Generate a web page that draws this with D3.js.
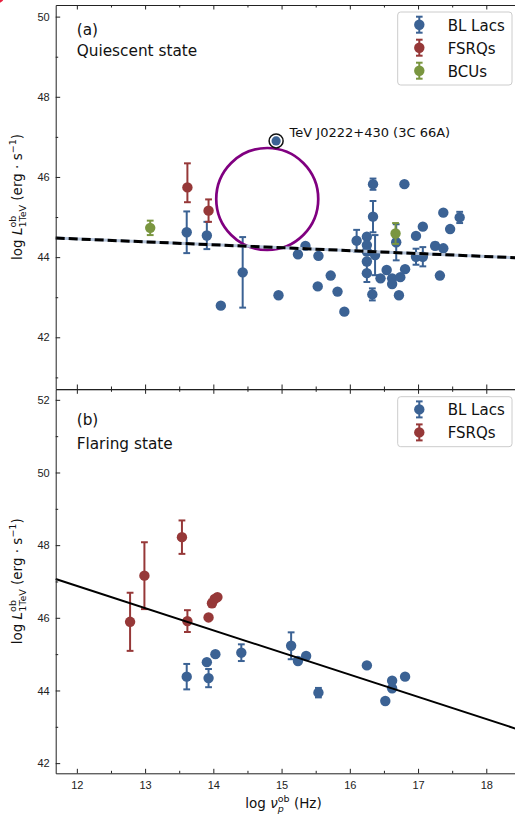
<!DOCTYPE html>
<html>
<head>
<meta charset="utf-8">
<title>TeV luminosity vs synchrotron peak</title>
<script src="https://cdn.jsdelivr.net/npm/d3@7"></script>
<style>
body { margin: 0; background: #fff; }
svg { display: block; font-family: "DejaVu Sans", sans-serif; }
.axis text { font-size: 11px; fill: #222; }
.axis line { stroke: #222; }
.axis path { stroke: #222; }
</style>
</head>
<body>
<div id="chart"></div>
<script>
// each point: [log nu_p, log L_1TeV, err below, err above]
var quiescentBL = [
	[13.61, 44.62, 0.52, 0.52], [13.905, 44.54, 0.34, 0.34], [14.11, 42.79, 0, 0],
	[14.43, 43.62, 0.88, 0.88], [14.955, 43.05, 0, 0], [15.24, 44.07, 0, 0],
	[15.35, 44.28, 0, 0], [15.54, 44.03, 0, 0], [15.53, 43.27, 0, 0],
	[15.72, 43.54, 0, 0], [15.82, 43.14, 0, 0], [15.92, 42.64, 0, 0],
	[16.10, 44.41, 0.27, 0.27], [16.25, 44.51, 0, 0], [16.25, 44.30, 0, 0],
	[16.25, 44.14, 0, 0], [16.25, 43.89, 0, 0], [16.25, 43.60, 0.22, 0.22],
	[16.34, 45.82, 0.14, 0.14], [16.34, 45.01, 0.39, 0.39], [16.37, 44.05, 0.50, 0.50],
	[16.33, 43.07, 0.15, 0.15], [16.45, 43.47, 0, 0], [16.54, 43.68, 0, 0],
	[16.62, 43.47, 0, 0], [16.62, 43.33, 0, 0], [16.74, 43.50, 0, 0],
	[16.72, 43.05, 0, 0], [16.81, 43.70, 0, 0], [16.80, 45.82, 0, 0],
	[16.68, 44.37, 0.45, 0.45], [16.97, 44.53, 0, 0], [17.07, 44.76, 0, 0],
	[16.97, 44.01, 0.2, 0.2], [17.07, 44.01, 0.24, 0.24], [17.25, 44.28, 0.08, 0.08],
	[17.37, 44.22, 0, 0], [17.32, 43.54, 0, 0], [17.37, 45.11, 0, 0],
	[17.47, 44.70, 0, 0], [17.61, 44.99, 0.14, 0.14]
];
var quiescentFSRQ = [[13.62, 45.74, 0.37, 0.6], [13.93, 45.16, 0.28, 0.28]];
var quiescentBCU = [[13.075, 44.73, 0.18, 0.18], [16.67, 44.59, 0.26, 0.26]];
var highlight = [14.92, 46.90];
var highlightName = "TeV J0222+430 (3C 66A)";
var circleCenter = [14.79, 45.45];

var flaringBL = [
	[13.61, 44.38, 0.35, 0.35], [13.905, 44.78, 0, 0], [13.93, 44.34, 0.25, 0.25],
	[14.03, 45.00, 0, 0], [14.41, 45.04, 0.23, 0.23], [15.14, 45.23, 0.37, 0.37],
	[15.24, 44.81, 0, 0], [15.36, 44.95, 0, 0], [15.54, 43.94, 0.13, 0.13],
	[16.25, 44.69, 0, 0], [16.62, 44.27, 0, 0], [16.62, 44.06, 0, 0],
	[16.52, 43.71, 0, 0], [16.81, 44.38, 0, 0]
];
var flaringFSRQ = [
	[12.78, 45.89, 0.8, 0.8], [12.99, 47.16, 0.92, 0.92], [13.54, 48.22, 0.46, 0.46],
	[13.62, 45.91, 0.3, 0.3], [13.93, 46.01, 0, 0], [13.98, 46.40, 0.1, 0.1],
	[14.02, 46.52, 0, 0], [14.06, 46.57, 0, 0]
];

// fit lines: [intercept, slope]
var fitQuiescent = [45.33, -0.073];
var fitFlaring = [54.21, -0.611];

var xMajor = [12, 13, 14, 15, 16, 17, 18];
var xMinor = [12.5, 13.5, 14.5, 15.5, 16.5, 17.5];
var yMajorA = [42, 44, 46, 48, 50];
var yMinorA = [41, 43, 45, 47, 49];
var yMajorB = [42, 44, 46, 48, 50, 52];
var yMinorB = [43, 45, 47, 49, 51];

var colors = {"BL Lacs": "#3b6294", "FSRQs": "#963838", "BCUs": "#7a9640"};

var W = 515, H = 816;
var left = 55.7, right = 517;
var x = d3.scaleLinear().domain([11.69, 18.45]).range([left, right]);

var svg = d3.select("#chart").append("svg").attr("width", W).attr("height", H);

// little red mark in the corner of the original
svg.append("circle").attr("cx", -2).attr("cy", -3).attr("r", 6).attr("fill", "#e8213f");

function drawPoints(g, y, data, color) {
	var pts = g.append("g").selectAll("g").data(data).enter().append("g");
	var eb = pts.filter(function (d) { return d[2] > 0 || d[3] > 0; });
	eb.append("line")
		.attr("x1", function (d) { return x(d[0]); }).attr("x2", function (d) { return x(d[0]); })
		.attr("y1", function (d) { return y(d[1] - d[2]); }).attr("y2", function (d) { return y(d[1] + d[3]); })
		.attr("stroke", color).attr("stroke-width", 2);
	[2, 3].forEach(function (k) {
		eb.append("line")
			.attr("x1", function (d) { return x(d[0]) - 3.4; }).attr("x2", function (d) { return x(d[0]) + 3.4; })
			.attr("y1", function (d) { return y(d[1] + (k == 2 ? -d[2] : d[3])); })
			.attr("y2", function (d) { return y(d[1] + (k == 2 ? -d[2] : d[3])); })
			.attr("stroke", color).attr("stroke-width", 2);
	});
	pts.append("circle")
		.attr("cx", function (d) { return x(d[0]); })
		.attr("cy", function (d) { return y(d[1]); })
		.attr("r", 5.2).attr("fill", color);
}

function drawAxes(g, y, top, bottom, yMajor, yMinor, showX) {
	g.append("g").attr("class", "axis").attr("transform", "translate(" + left + ",0)")
		.call(d3.axisLeft(y).tickValues(yMajor).tickSize(-4.5).tickSizeOuter(0).tickPadding(6).tickFormat(d3.format("d")));
	g.append("g").attr("class", "axis").attr("transform", "translate(" + left + ",0)")
		.call(d3.axisLeft(y).tickValues(yMinor).tickSize(-2.5).tickFormat(""))
		.select(".domain").remove();
	g.append("g").attr("class", "axis").attr("transform", "translate(0," + top + ")")
		.call(d3.axisTop(x).tickValues(xMajor).tickSize(-4.5).tickSizeOuter(0).tickFormat(""));
	g.append("g").attr("class", "axis").attr("transform", "translate(0," + top + ")")
		.call(d3.axisTop(x).tickValues(xMinor).tickSize(-2.5).tickFormat(""))
		.select(".domain").remove();
	g.append("g").attr("class", "axis").attr("transform", "translate(0," + bottom + ")")
		.call(d3.axisBottom(x).tickValues(xMajor).tickSize(-4.5).tickSizeOuter(0).tickPadding(8)
			.tickFormat(showX ? d3.format("d") : ""));
	g.append("g").attr("class", "axis").attr("transform", "translate(0," + bottom + ")")
		.call(d3.axisBottom(x).tickValues(xMinor).tickSize(-2.5).tickFormat(""))
		.select(".domain").remove();
}

function drawLegend(items, y0, y1) {
	var lg = svg.append("g");
	lg.append("rect").attr("x", 397.7).attr("y", y0).attr("width", 114.3).attr("height", y1 - y0)
		.attr("rx", 3).attr("fill", "white").attr("fill-opacity", 0.8)
		.attr("stroke", "#cccccc").attr("stroke-width", 1);
	items.forEach(function (name, i) {
		var cy = y0 + 12.7 + i * 23;
		var c = colors[name];
		lg.append("line").attr("x1", 419.3).attr("x2", 419.3).attr("y1", cy - 8).attr("y2", cy + 8)
			.attr("stroke", c).attr("stroke-width", 2);
		[-8, 8].forEach(function (o) {
			lg.append("line").attr("x1", 416).attr("x2", 422.6).attr("y1", cy + o).attr("y2", cy + o)
				.attr("stroke", c).attr("stroke-width", 2);
		});
		lg.append("circle").attr("cx", 419.3).attr("cy", cy).attr("r", 5.2).attr("fill", c);
		lg.append("text").attr("x", 447.7).attr("y", cy + 5.8).style("font-size", "15px").attr("fill", "#111").text(name);
	});
}

function yLabel(mid) {
	var t = svg.append("text").attr("transform", "translate(22," + mid + ") rotate(-90)")
		.attr("text-anchor", "middle").style("font-size", "13.5px").attr("fill", "#111");
	t.append("tspan").text("log ");
	t.append("tspan").style("font-style", "italic").text("L");
	t.append("tspan").attr("dy", -6).style("font-size", "9.5px").text("ob");
	t.append("tspan").attr("dx", -11.8).attr("dy", 10).style("font-size", "9.5px").text("1TeV");
	t.append("tspan").attr("dy", -4).text(" (erg · s");
	t.append("tspan").attr("dy", -6).style("font-size", "9.5px").text("−1");
	t.append("tspan").attr("dy", 6).text(")");
}

// ---------- panel (a) ----------
var topA = 5, botA = 389;
var yA = d3.scaleLinear().domain([40.71, 50.29]).range([botA, topA]);
var gA = svg.append("g");

drawPoints(gA, yA, quiescentBL, colors["BL Lacs"]);
drawPoints(gA, yA, quiescentFSRQ, colors["FSRQs"]);
drawPoints(gA, yA, quiescentBCU, colors["BCUs"]);

gA.append("circle").attr("cx", x(circleCenter[0])).attr("cy", yA(circleCenter[1])).attr("r", 51)
	.attr("fill", "none").attr("stroke", "#800080").attr("stroke-width", 2.7);

var lineA = d3.line().x(function (d) { return x(d); }).y(function (d) { return yA(fitQuiescent[0] + fitQuiescent[1] * d); });
gA.append("path").datum(x.domain()).attr("d", lineA).attr("stroke", "#b4c3d9").attr("stroke-width", 3).attr("fill", "none");
gA.append("path").datum(x.domain()).attr("d", lineA).attr("stroke", "#000").attr("stroke-width", 3)
	.attr("stroke-dasharray", "9,4").attr("fill", "none");

gA.append("circle").attr("cx", x(highlight[0])).attr("cy", yA(highlight[1])).attr("r", 7)
	.attr("fill", "white").attr("stroke", "#111").attr("stroke-width", 1.5);
gA.append("circle").attr("cx", x(highlight[0])).attr("cy", yA(highlight[1])).attr("r", 4.6)
	.attr("fill", colors["BL Lacs"]);
gA.append("text").attr("x", x(highlight[0]) + 13.5).attr("y", yA(highlight[1]) - 4)
	.style("font-size", "13px").attr("fill", "#111").text(highlightName);

drawAxes(gA, yA, topA, botA, yMajorA, yMinorA, false);
gA.append("text").attr("x", 76.7).attr("y", 34.5).style("font-size", "15.3px").attr("fill", "#111").text("(a)");
gA.append("text").attr("x", 76.7).attr("y", 56).style("font-size", "15.3px").attr("fill", "#111").text("Quiescent state");
drawLegend(["BL Lacs", "FSRQs", "BCUs"], 12, 85);
yLabel((topA + botA) / 2);

// ---------- panel (b) ----------
var topB = 389.3, botB = 773.3;
var yB = d3.scaleLinear().domain([41.72, 52.29]).range([botB, topB]);
var gB = svg.append("g");

drawPoints(gB, yB, flaringBL, colors["BL Lacs"]);
drawPoints(gB, yB, flaringFSRQ, colors["FSRQs"]);

var lineB = d3.line().x(function (d) { return x(d); }).y(function (d) { return yB(fitFlaring[0] + fitFlaring[1] * d); });
gB.append("path").datum(x.domain()).attr("d", lineB).attr("stroke", "#000").attr("stroke-width", 2).attr("fill", "none");

drawAxes(gB, yB, topB, botB, yMajorB, yMinorB, true);
gB.append("text").attr("x", 76.7).attr("y", 424.5).style("font-size", "15.3px").attr("fill", "#111").text("(b)");
gB.append("text").attr("x", 76.7).attr("y", 448.5).style("font-size", "15.3px").attr("fill", "#111").text("Flaring state");
drawLegend(["BL Lacs", "FSRQs"], 396.7, 446.7);
yLabel((topB + botB) / 2);

// x label
var xl = svg.append("text").attr("x", 283.5).attr("y", 808).attr("text-anchor", "middle")
	.style("font-size", "13.5px").attr("fill", "#111");
xl.append("tspan").text("log ");
xl.append("tspan").style("font-style", "italic").text("ν");
xl.append("tspan").attr("dy", -6).style("font-size", "9.5px").text("ob");
xl.append("tspan").attr("dx", -11.8).attr("dy", 10).style("font-size", "9.5px").style("font-style", "italic").text("p");
xl.append("tspan").attr("dx", 5.8).attr("dy", -4).text(" (Hz)");
</script>
</body>
</html>
